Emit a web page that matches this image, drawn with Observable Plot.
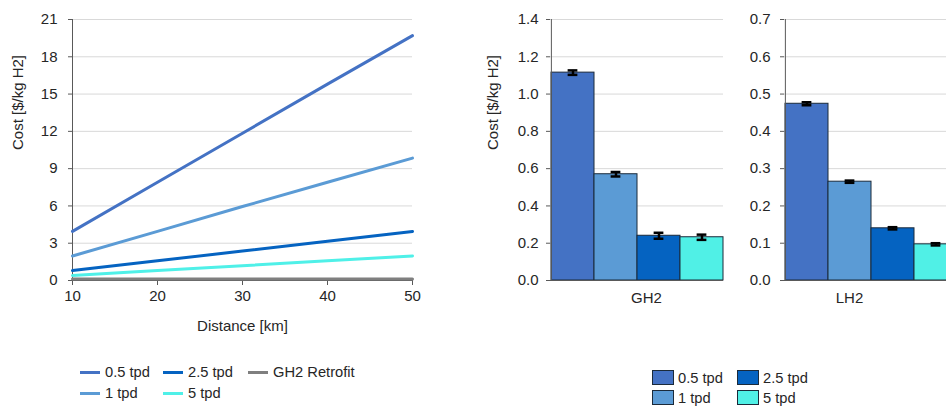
<!DOCTYPE html>
<html><head><meta charset="utf-8">
<script src="https://cdn.jsdelivr.net/npm/d3@7"></script>
<script src="https://cdn.jsdelivr.net/npm/@observablehq/plot@0.6"></script>
<style>
html,body{margin:0;padding:0;background:#fff;overflow:hidden;width:946px;height:408px;}
body{position:relative;font-family:"Liberation Sans",Arial,sans-serif;color:#262626;}
.p{position:absolute;top:0;}
.p svg{max-width:none !important;}
.li{position:absolute;font-size:14.7px;line-height:18px;white-space:nowrap;}
.ln{position:absolute;height:3px;width:20px;}
.sw{position:absolute;width:22px;height:15px;box-sizing:border-box;border:1px solid #1b2a3a;}
</style></head>
<body>
<div id="c1" class="p" style="left:0;width:420px"></div>
<div id="c2" class="p" style="left:470px;width:260px"></div>
<div id="c3" class="p" style="left:720px;width:237px"></div>
<div id="leg1"></div>
<div id="leg2"></div>
<script>
// ---- Line chart data ----
const distances = [10, 20, 30, 40, 50];
const lineSeries = ["GH2 Retrofit", "5 tpd", "2.5 tpd", "1 tpd", "0.5 tpd"];
const cost05 = [3.95, 7.9, 11.85, 15.8, 19.7];
const cost1 = [1.97, 3.95, 5.95, 7.9, 9.85];
const cost25 = [0.8, 1.58, 2.37, 3.16, 3.95];
const cost5 = [0.4, 0.8, 1.19, 1.58, 1.98];
const costRetro = [0.12, 0.12, 0.12, 0.12, 0.12];
const lineColors = ["#7f7f7f", "#4ff0e8", "#0563c1", "#5b9bd5", "#4472c4"];
const yTicks1 = [0, 3, 6, 9, 12, 15, 18, 21];

// ---- Bar chart data ----
const tpd = ["0.5 tpd", "1 tpd", "2.5 tpd", "5 tpd"];
const gh2Cost = [1.115, 0.57, 0.24, 0.232];
const gh2Err = [0.012, 0.012, 0.016, 0.014];
const lh2Cost = [0.474, 0.265, 0.14, 0.097];
const lh2Err = [0.004, 0.003, 0.003, 0.003];
const barColors = ["#4472c4", "#5b9bd5", "#0563c1", "#50f0e6"];
const yTicksGH2 = [0, 0.2, 0.4, 0.6, 0.8, 1.0, 1.2, 1.4];
const yTicksLH2 = [0, 0.1, 0.2, 0.3, 0.4, 0.5, 0.6, 0.7];

const FONT = "'Liberation Sans', Arial, sans-serif";
const FS = 15;
const baseStyle = {fontFamily: FONT, fontSize: "15px", color: "#262626", background: "transparent", overflow: "visible", maxWidth: "none"};
const AX = "#595959";

const valsBy = {"0.5 tpd": cost05, "1 tpd": cost1, "2.5 tpd": cost25, "5 tpd": cost5, "GH2 Retrofit": costRetro};
const lineData = lineSeries.flatMap(s => distances.map((d, i) => ({s, d, v: valsBy[s][i]})));

const c1 = Plot.plot({
  width: 420, height: 340, marginLeft: 72, marginRight: 8, marginTop: 19, marginBottom: 60,
  style: baseStyle,
  x: {domain: [10, 50]},
  y: {domain: [0, 21]},
  color: {domain: lineSeries, range: lineColors},
  marks: [
    Plot.ruleY(yTicks1.filter(d => d > 0), {stroke: "#d9d9d9", strokeWidth: 1}),
    Plot.axisY({ticks: yTicks1, tickSize: 4, tickPadding: 11, label: null, stroke: AX, fontSize: FS}),
    Plot.axisX({ticks: distances, tickSize: 5, tickPadding: 5, label: null, stroke: AX, fontSize: FS}),
    Plot.ruleX([10], {stroke: AX}),
    Plot.ruleY([0], {stroke: AX}),
    Plot.line(lineData, {x: "d", y: "v", stroke: "s", z: "s", strokeWidth: 3}),
    Plot.text(["Cost [$/kg H2]"], {frameAnchor: "left", rotate: -90, dx: -54, fontSize: FS}),
    Plot.text(["Distance [km]"], {frameAnchor: "bottom", dy: 50, fontSize: FS})
  ]
});
document.getElementById("c1").append(c1);

function barChart(vals, errs, ticks, ymax, opts) {
  const data = tpd.map((t, i) => ({t, v: vals[i], e: errs[i]}));
  const bw = (opts.width - opts.ml - opts.mr) / tpd.length;
  const capInset = (bw - 10) / 2;
  return Plot.plot({
    width: opts.width, height: 320, marginLeft: opts.ml, marginRight: opts.mr, marginTop: 19, marginBottom: 40,
    style: baseStyle,
    x: {domain: tpd, padding: 0, axis: null},
    y: {domain: [0, ymax]},
    color: {domain: tpd, range: barColors},
    marks: [
      Plot.ruleY(ticks.filter(d => d > 0), {stroke: "#d9d9d9", strokeWidth: 1}),
      Plot.axisY({ticks, tickFormat: ".1f", tickSize: 4, tickPadding: opts.tp, label: null, stroke: AX, fontSize: FS}),
      Plot.barY(data, {x: "t", y: "v", fill: "t", stroke: "#1b2a3a", strokeWidth: 1}),
      Plot.ruleX([tpd[0]], {x: d => d, dx: -bw / 2, stroke: AX}),
      Plot.ruleX(data, {x: "t", y1: d => d.v - d.e, y2: d => d.v + d.e, stroke: "#000", strokeWidth: 2.5}),
      Plot.tickY(data, {x: "t", y: d => d.v + d.e, stroke: "#000", strokeWidth: 2.5, insetLeft: capInset, insetRight: capInset}),
      Plot.tickY(data, {x: "t", y: d => d.v - d.e, stroke: "#000", strokeWidth: 2.5, insetLeft: capInset, insetRight: capInset}),
      Plot.ruleY([0], {stroke: AX}),
      Plot.text([opts.cat], {frameAnchor: "bottom", dy: 22, dx: opts.catDx, fontSize: FS}),
      ...(opts.ylabel ? [Plot.text([opts.ylabel], {frameAnchor: "left", rotate: -90, dx: -57, fontSize: FS})] : [])
    ]
  });
}
document.getElementById("c2").append(barChart(gh2Cost, gh2Err, yTicksGH2, 1.4,
  {width: 260, ml: 80, mr: 7, tp: 8, cat: "GH2", catDx: 9.5, ylabel: "Cost [$/kg H2]"}));
document.getElementById("c3").append(barChart(lh2Cost, lh2Err, yTicksLH2, 0.7,
  {width: 237, ml: 64, mr: 0, tp: 10, cat: "LH2", catDx: -21.5}));

// ---- Legends ----
const leg1 = document.getElementById("leg1");
const leg1Items = [
  {s: "0.5 tpd", x: 80, y: 372}, {s: "2.5 tpd", x: 163, y: 372}, {s: "GH2 Retrofit", x: 248, y: 372},
  {s: "1 tpd", x: 80, y: 393}, {s: "5 tpd", x: 163, y: 393}
];
leg1Items.forEach(it => {
  const col = lineColors[lineSeries.indexOf(it.s)];
  const l = document.createElement("div"); l.className = "ln";
  l.style.cssText = `left:${it.x}px;top:${it.y - 1.5}px;background:${col}`;
  const t = document.createElement("div"); t.className = "li";
  t.style.cssText = `left:${it.x + 25}px;top:${it.y - 9}px`; t.textContent = it.s;
  leg1.append(l, t);
});
const leg2 = document.getElementById("leg2");
const leg2Pos = [{x: 652, y: 370}, {x: 652, y: 390}, {x: 737, y: 370}, {x: 737, y: 390}];
tpd.forEach((s, i) => {
  const p = leg2Pos[i];
  const b = document.createElement("div"); b.className = "sw";
  b.style.cssText = `left:${p.x}px;top:${p.y}px;background:${barColors[i]}`;
  const t = document.createElement("div"); t.className = "li";
  t.style.cssText = `left:${p.x + 26}px;top:${p.y - 1.5}px`; t.textContent = s;
  leg2.append(b, t);
});
</script>
</body></html>
